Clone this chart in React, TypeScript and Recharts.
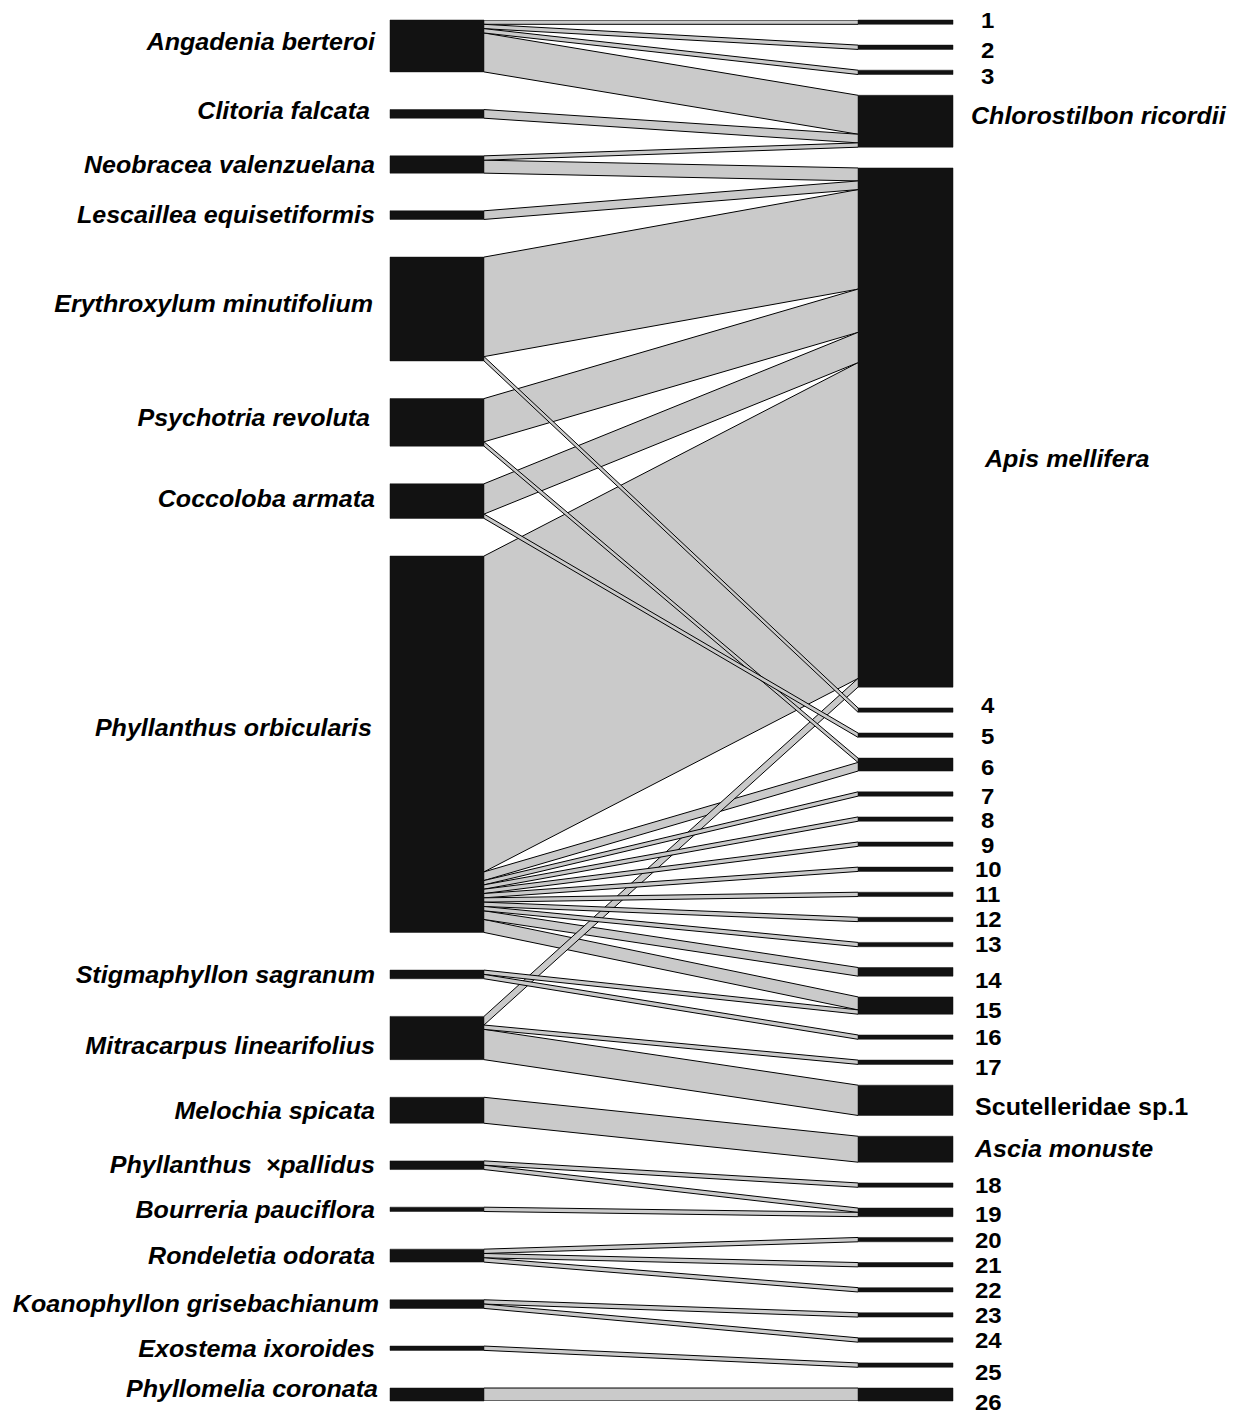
import React from "react";
import { ComposedChart, Area, XAxis, YAxis, ReferenceArea } from "recharts";

// ---------- data ----------
const plants = [
  "Angadenia berteroi",
  "Clitoria falcata",
  "Neobracea valenzuelana",
  "Lescaillea equisetiformis",
  "Erythroxylum minutifolium",
  "Psychotria revoluta",
  "Coccoloba armata",
  "Phyllanthus orbicularis",
  "Stigmaphyllon sagranum",
  "Mitracarpus linearifolius",
  "Melochia spicata",
  "Phyllanthus\u00A0 \u00D7pallidus",
  "Bourreria pauciflora",
  "Rondeletia odorata",
  "Koanophyllon grisebachianum",
  "Exostema ixoroides",
  "Phyllomelia coronata",
];

const animals = [
  "1", "2", "3", "Chlorostilbon ricordii", "Apis mellifera",
  "4", "5", "6", "7", "8", "9", "10", "11", "12", "13", "14", "15", "16", "17",
  "Scutelleridae sp.1", "Ascia monuste",
  "18", "19", "20", "21", "22", "23", "24", "25", "26",
];

const italicAnimals = ["Chlorostilbon ricordii", "Apis mellifera", "Ascia monuste"];

// interactions: plant index -> animal name -> count
const linkPlant = [
  0, 0, 0, 0,
  1,
  2, 2,
  3,
  4, 4,
  5, 5,
  6, 6,
  7, 7, 7, 7, 7, 7, 7, 7, 7, 7, 7,
  8, 8,
  9, 9, 9,
  10,
  11, 11,
  12,
  13, 13, 13,
  14, 14,
  15,
  16,
];
const linkAnimal = [
  "1", "2", "3", "Chlorostilbon ricordii",
  "Chlorostilbon ricordii",
  "Chlorostilbon ricordii", "Apis mellifera",
  "Apis mellifera",
  "Apis mellifera", "4",
  "Apis mellifera", "6",
  "Apis mellifera", "5",
  "Apis mellifera", "6", "7", "8", "9", "10", "11", "12", "13", "14", "15",
  "15", "16",
  "Apis mellifera", "17", "Scutelleridae sp.1",
  "Ascia monuste",
  "18", "19",
  "19",
  "20", "21", "22",
  "23", "24",
  "25",
  "26",
];
const linkValue = [
  1, 1, 1, 9,
  2,
  1, 3,
  2,
  23, 1,
  10, 1,
  7, 1,
  73, 2, 1, 1, 1, 1, 1, 1, 1, 2, 3,
  1, 1,
  2, 1, 7,
  6,
  1, 1,
  1,
  1, 1, 1,
  1, 1,
  1,
  3,
];

// ---------- layout (derived) ----------
const X_PLOT = [384, 965];
const BOX_L = [390, 484];
const BOX_R = [858, 953];
const GAP_L = 8.7;
const GAP_R = (GAP_L * (plants.length - 1)) / (animals.length - 1);

const animalIdx = (a: string) => animals.indexOf(a);
const plantTotal = plants.map((_, i) =>
  linkValue.reduce((s, v, k) => (linkPlant[k] === i ? s + v : s), 0)
);
const animalTotal = animals.map((a) =>
  linkValue.reduce((s, v, k) => (linkAnimal[k] === a ? s + v : s), 0)
);
const TOTAL = plantTotal.reduce((a, b) => a + b, 0);
const SPAN = TOTAL + GAP_L * (plants.length - 1);

const cumTops = (totals: number[], gap: number) => {
  const tops: number[] = [];
  let acc = 0;
  totals.forEach((t) => {
    tops.push(acc);
    acc += t + gap;
  });
  return tops;
};
const plantTop = cumTops(plantTotal, GAP_L);
const animalTop = cumTops(animalTotal, GAP_R);

// link offsets at each end
const linkIds = linkValue.map((_, i) => i);
const leftPos: number[] = new Array(linkValue.length).fill(0);
const rightPos: number[] = new Array(linkValue.length).fill(0);
plants.forEach((_, p) => {
  let off = plantTop[p];
  linkIds
    .filter((k) => linkPlant[k] === p)
    .sort((a, b) => animalIdx(linkAnimal[a]) - animalIdx(linkAnimal[b]))
    .forEach((k) => {
      leftPos[k] = off;
      off += linkValue[k];
    });
});
animals.forEach((a, ai) => {
  let off = animalTop[ai];
  linkIds
    .filter((k) => linkAnimal[k] === a)
    .sort((x, y) => linkPlant[x] - linkPlant[y])
    .forEach((k) => {
      rightPos[k] = off;
      off += linkValue[k];
    });
});

const rowL: Record<string, any> = { x: BOX_L[1] };
const rowR: Record<string, any> = { x: BOX_R[0] };
linkIds.forEach((k) => {
  rowL[`k${k}`] = [leftPos[k] + linkValue[k], leftPos[k]];
  rowR[`k${k}`] = [rightPos[k] + linkValue[k], rightPos[k]];
});
const linkRows = [rowL, rowR];

// draw wide bands first so thin links stay visible on top
const drawOrder = [...linkIds].sort((a, b) => linkValue[b] - linkValue[a] || a - b);

const plantCenters = plants.map((_, i) => plantTop[i] + plantTotal[i] / 2);
const animalCenters = animals.map((_, i) => animalTop[i] + animalTotal[i] / 2);

// small label nudges (px) to mimic the original placement
const labelNudge: Record<string, [number, number]> = {
  "Angadenia berteroi": [0, -4],
  "Clitoria falcata": [-5, -3],
  "Erythroxylum minutifolium": [-2, -5],
  "Psychotria revoluta": [-5, -5],
  "Coccoloba armata": [0, -2],
  "Phyllanthus orbicularis": [-3, -17],
  "Mitracarpus linearifolius": [0, 8],
  "Phyllomelia coronata": [3, -6],
  "Koanophyllon grisebachianum": [4, 0],
  "1": [6, -2],
  "2": [6, 3],
  "3": [6, 4],
  "Chlorostilbon ricordii": [-4, -6],
  "Apis mellifera": [10, 31],
  "4": [6, -5],
  "5": [6, 1],
  "6": [6, 2],
  "7": [6, 2],
  "8": [6, 1],
  "9": [6, 1],
  "14": [0, 8],
  "15": [0, 5],
  "17": [0, 5],
  "Scutelleridae sp.1": [0, 6],
  "19": [0, 2],
  "25": [0, 7],
  "26": [0, 8],
};

const FONT = "'Liberation Sans', Arial, Helvetica, sans-serif";
const STRETCH = 1.09;

const findIdx = (centers: number[], v: number) => {
  let best = 0;
  centers.forEach((c, i) => {
    if (Math.abs(c - v) < Math.abs(centers[best] - v)) best = i;
  });
  return best;
};

const PlantTick = (props: any) => {
  const { x, y, payload } = props;
  const name = plants[findIdx(plantCenters, payload.value)];
  const [dx, dy] = labelNudge[name] || [0, 0];
  return (
    <g transform={`translate(${x + dx},${y + dy}) scale(${STRETCH},1)`}>
      <text
        x={0}
        y={0}
        dy="0.36em"
        textAnchor="end"
        fontFamily={FONT}
        fontSize={23}
        fontWeight={700}
        fontStyle="italic"
        fill="#000"
      >
        {name}
      </text>
    </g>
  );
};

const AnimalTick = (props: any) => {
  const { x, y, payload } = props;
  const name = animals[findIdx(animalCenters, payload.value)];
  const [dx, dy] = labelNudge[name] || [0, 0];
  const italic = italicAnimals.includes(name);
  const numeric = /^\d+$/.test(name);
  return (
    <g transform={`translate(${x + dx},${y + dy}) scale(${STRETCH},1)`}>
      <text
        x={0}
        y={0}
        dy="0.36em"
        textAnchor="start"
        fontFamily={FONT}
        fontSize={numeric ? 22 : 23}
        fontWeight={700}
        fontStyle={italic ? "italic" : "normal"}
        fill="#000"
      >
        {name}
      </text>
    </g>
  );
};

export default function App() {
  return (
    <div style={{ background: "#fff", width: 1228 }}>
      <ComposedChart
        width={1228}
        height={1406}
        data={linkRows}
        margin={{ top: 12, right: 0, bottom: 13, left: 0 }}
      >
        <XAxis dataKey="x" type="number" domain={X_PLOT} allowDataOverflow hide />
        <YAxis
          yAxisId="L"
          orientation="left"
          type="number"
          domain={[0, SPAN]}
          reversed
          allowDataOverflow
          ticks={plantCenters}
          interval={0}
          width={376}
          axisLine={false}
          tickLine={false}
          tickSize={0}
          tickMargin={9}
          tick={<PlantTick />}
        />
        <YAxis
          yAxisId="R"
          orientation="right"
          type="number"
          domain={[0, SPAN]}
          reversed
          allowDataOverflow
          ticks={animalCenters}
          interval={0}
          width={271}
          axisLine={false}
          tickLine={false}
          tickSize={0}
          tickMargin={10}
          tick={<AnimalTick />}
        />
        {drawOrder.map((k) => (
          <Area
            key={`link-${k}`}
            yAxisId="L"
            dataKey={`k${k}`}
            type="linear"
            stroke="#000"
            strokeWidth={1}
            fill="#cacaca"
            fillOpacity={1}
            dot={false}
            activeDot={false}
            isAnimationActive={false}
          />
        ))}
        {plants.map((p, i) => (
          <ReferenceArea
            key={`pb-${i}`}
            yAxisId="L"
            x1={BOX_L[0]}
            x2={BOX_L[1]}
            y1={plantTop[i]}
            y2={plantTop[i] + plantTotal[i]}
            fill="#121212"
            fillOpacity={1}
            stroke="#121212"
            strokeWidth={0.5}
            ifOverflow="visible"
          />
        ))}
        {animals.map((a, i) => (
          <ReferenceArea
            key={`ab-${i}`}
            yAxisId="L"
            x1={BOX_R[0]}
            x2={BOX_R[1]}
            y1={animalTop[i]}
            y2={animalTop[i] + animalTotal[i]}
            fill="#121212"
            fillOpacity={1}
            stroke="#121212"
            strokeWidth={0.5}
            ifOverflow="visible"
          />
        ))}
      </ComposedChart>
    </div>
  );
}
